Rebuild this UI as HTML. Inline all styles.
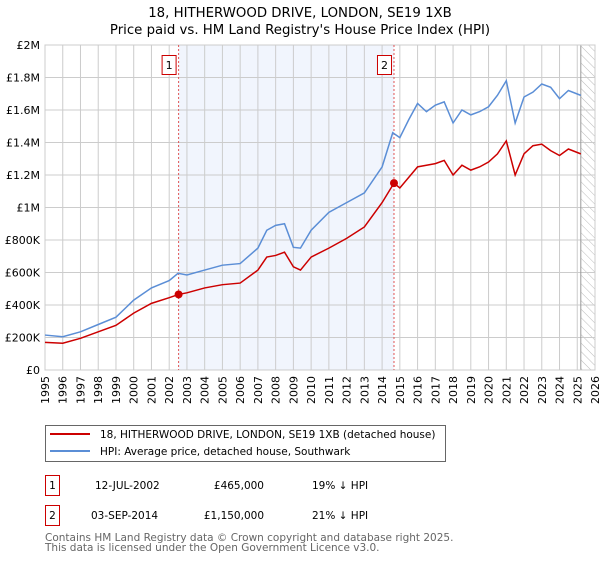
<!DOCTYPE html>
<html><head><meta charset="utf-8"><style>
body{margin:0;background:#fff;font-family:"DejaVu Sans","Liberation Sans",sans-serif;}
svg text{font-family:"DejaVu Sans","Liberation Sans",sans-serif;}
</style></head><body>
<svg id="c" width="600" height="560" xmlns="http://www.w3.org/2000/svg">
<defs><pattern id="hatch" width="6" height="6" patternUnits="userSpaceOnUse" patternTransform="rotate(-45)"><line x1="0" y1="0" x2="0" y2="6" stroke="#bbb" stroke-width="1"/></pattern></defs>
<text x="300" y="17" text-anchor="middle" font-size="13.3">18, HITHERWOOD DRIVE, LONDON, SE19 1XB</text>
<text x="300" y="34" text-anchor="middle" font-size="13.3">Price paid vs. HM Land Registry's House Price Index (HPI)</text>
<g id="plot"></g>
<g>
<rect x="45.5" y="425.5" width="400" height="36" fill="#fff" stroke="#666"/>
<line x1="50" y1="434" x2="90" y2="434" stroke="#cc0000" stroke-width="2"/>
<text x="100" y="438" font-size="10.5">18, HITHERWOOD DRIVE, LONDON, SE19 1XB (detached house)</text>
<line x1="50" y1="451" x2="90" y2="451" stroke="#5b8ed6" stroke-width="2"/>
<text x="100" y="455" font-size="10.5">HPI: Average price, detached house, Southwark</text>
</g>
<g font-size="10.5">
<rect x="45.5" y="475.5" width="14" height="20" fill="#fff" stroke="#cc0000"/>
<text x="52.5" y="489" text-anchor="middle">1</text>
<text x="95" y="489">12-JUL-2002</text>
<text x="264" y="489" text-anchor="end">£465,000</text>
<text x="312" y="489">19% ↓ HPI</text>
<rect x="45.5" y="505.5" width="14" height="20" fill="#fff" stroke="#cc0000"/>
<text x="52.5" y="519" text-anchor="middle">2</text>
<text x="91" y="519">03-SEP-2014</text>
<text x="264" y="519" text-anchor="end">£1,150,000</text>
<text x="312" y="519">21% ↓ HPI</text>
</g>
<text x="45" y="541" font-size="10.5" fill="#666">Contains HM Land Registry data © Crown copyright and database right 2025.</text>
<text x="45" y="551" font-size="10.5" fill="#666">This data is licensed under the Open Government Licence v3.0.</text>
</svg>
<script>
const yTicks=[0,200000,400000,600000,800000,1000000,1200000,1400000,1600000,1800000,2000000];
const yTickLabels=["£0","£200K","£400K","£600K","£800K","£1M","£1.2M","£1.4M","£1.6M","£1.8M","£2M"];
const xYears=[1995,1996,1997,1998,1999,2000,2001,2002,2003,2004,2005,2006,2007,2008,2009,2010,2011,2012,2013,2014,2015,2016,2017,2018,2019,2020,2021,2022,2023,2024,2025,2026];
const hpiT=[1995,1996,1997,1998,1999,2000,2001,2002,2002.5,2003,2004,2005,2006,2007,2007.5,2008,2008.5,2009,2009.4,2010,2011,2012,2013,2014,2014.6,2015,2015.5,2016,2016.5,2017,2017.5,2018,2018.5,2019,2019.5,2020,2020.5,2021,2021.5,2022,2022.5,2023,2023.5,2024,2024.5,2025.2];
const hpiV=[215000,205000,235000,280000,325000,430000,505000,550000,595000,585000,615000,645000,655000,750000,860000,890000,900000,755000,750000,860000,970000,1030000,1090000,1250000,1460000,1430000,1540000,1640000,1590000,1630000,1650000,1520000,1600000,1570000,1590000,1620000,1690000,1780000,1520000,1680000,1710000,1760000,1740000,1670000,1720000,1690000];
const priceT=[1995,1996,1997,1998,1999,2000,2001,2002,2002.53,2003,2004,2005,2006,2007,2007.5,2008,2008.5,2009,2009.4,2010,2011,2012,2013,2014,2014.67,2015,2016,2016.5,2017,2017.5,2018,2018.5,2019,2019.5,2020,2020.5,2021,2021.5,2022,2022.5,2023,2023.5,2024,2024.5,2025.2];
const priceV=[170000,165000,195000,235000,275000,350000,410000,445000,465000,475000,505000,525000,535000,615000,695000,705000,725000,635000,615000,695000,750000,810000,880000,1030000,1150000,1120000,1250000,1260000,1270000,1290000,1200000,1260000,1230000,1250000,1280000,1330000,1410000,1200000,1330000,1380000,1390000,1350000,1320000,1360000,1330000];
const saleT=[2002.53,2014.67];
const saleV=[465000,1150000];
const saleLabels=["1","2"];
const dataEnd=2025.2;

const L=45,R=595,T=45,B=370,X0=1995,X1=2026,YMAX=2000000;
const sx=t=>L+(t-X0)/(X1-X0)*(R-L);
const sy=v=>B-v/YMAX*(B-T);
const NS="http://www.w3.org/2000/svg";
const g=document.getElementById('plot');
function mk(tag,attrs,parent){const e=document.createElementNS(NS,tag);for(const k in attrs)e.setAttribute(k,attrs[k]);(parent||g).appendChild(e);return e;}

const shade=mk('rect',{x:sx(saleT[0]),y:T,width:sx(saleT[1])-sx(saleT[0]),height:B-T,fill:'#eef3fd',opacity:0.8});


const hat=mk('rect',{x:sx(dataEnd),y:T,width:R-sx(dataEnd),height:B-T,fill:'url(#hatch)'});



yTicks.forEach((v,i)=>{
  const ln=mk('line',{x1:L,x2:R,y1:sy(v),y2:sy(v),stroke:'#ccc','stroke-width':1});
  
  
  const tx=mk('text',{x:L-5,y:sy(v)+4,'text-anchor':'end','font-size':11});
  tx.textContent=yTickLabels[i];
  
  
});
xYears.forEach(y=>{
  const ln=mk('line',{x1:sx(y),x2:sx(y),y1:T,y2:B,stroke:'#ccc','stroke-width':1});
  
  
  const tx=mk('text',{x:0,y:0,'text-anchor':'end','font-size':11,transform:`translate(${sx(y)+4},${B+6}) rotate(-90)`});
  tx.textContent=y;
  
  
});
const endLn=mk('line',{x1:sx(dataEnd),x2:sx(dataEnd),y1:T,y2:B,stroke:'#999','stroke-width':1});


const frame=mk('rect',{x:L,y:T,width:R-L,height:B-T,fill:'none',stroke:'#ccc'});



saleT.forEach((t,i)=>{
  const vl=mk('line',{x1:sx(t),x2:sx(t),y1:T,y2:B,stroke:'#e05555','stroke-width':1,'stroke-dasharray':'2,2'});
  
  
  const bx=mk('rect',{x:sx(t)-16.5,y:55.5,width:14,height:19,fill:'#fff',stroke:'#cc0000'});
  
  
  const bt=mk('text',{x:sx(t)-9.5,y:69,'text-anchor':'middle','font-size':11});
  bt.textContent=saleLabels[i];
  
  
});

const hp=mk('polyline',{points:hpiT.map((t,i)=>sx(t)+','+sy(hpiV[i])).join(' '),fill:'none',stroke:'#5b8ed6','stroke-width':1.5});


const pp=mk('polyline',{points:priceT.map((t,i)=>sx(t)+','+sy(priceV[i])).join(' '),fill:'none',stroke:'#cc0000','stroke-width':1.5});


saleT.forEach((t,i)=>{
  const c=mk('circle',{cx:sx(t),cy:sy(saleV[i]),r:4,fill:'#cc0000'});
  
  
});
</script>
</body></html>
